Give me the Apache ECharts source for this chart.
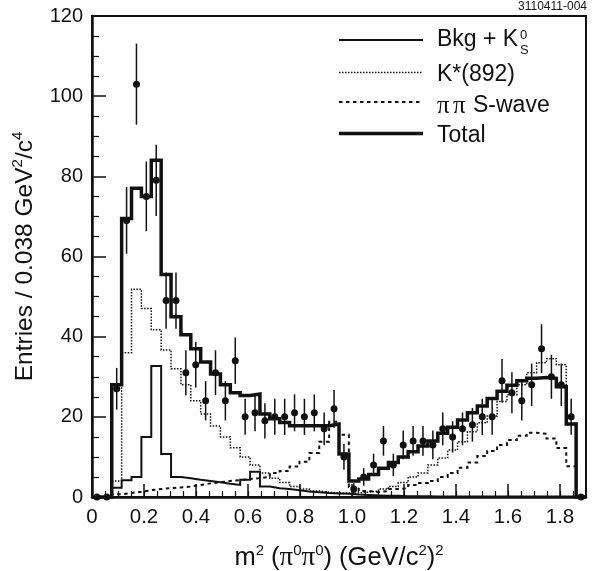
<!DOCTYPE html>
<html>
<head>
<meta charset="utf-8">
<style>
  html, body { margin: 0; padding: 0; background: #fff; }
  #chart-container { width: 593px; height: 571px; }
</style>
<script src="https://cdn.jsdelivr.net/npm/echarts@6/dist/echarts.min.js"></script>
</head>
<body>
<div id="chart-container"></div>
<script>
var BIN_WIDTH = 0.038

/* 50 bins from 0 to 1.9, one value per bin */
var bkgValues = [0, 0, 2.3, 4.2, 5, 15, 32.7, 10.7, 5, 4.7, 4.3, 4, 3.7, 3.3, 3, 4.3, 6.3, 2.6, 2.2, 2, 1.7, 1.4, 1.2, 1, 0.9, 0.8, 0.6, 0.5, 0.4, 0.3, 0.3, 0.2, 0.2, 0.2, 0.1, 0.1, 0.1, 0.1, 0.1, 0.1, 0.1, 0.1, 0.1, 0.1, 0.1, 0.1, 0.1, 0.1, 0.1, 0]
var kstarValues = [0, 0, 4, 36, 51.8, 47, 41.7, 36.7, 32, 28, 24, 20.7, 17.7, 15, 12.3, 10, 8, 6, 4.7, 3.6, 2.6, 2, 1.5, 1.2, 1, 1, 1, 1.2, 1.5, 2, 2.6, 3.6, 5, 6, 8, 9.7, 11.7, 13.8, 16.3, 18.5, 20.2, 23.8, 25.5, 28, 31, 33.5, 34.5, 33, 18, 0]
var swaveValues = [0, 0, 0.7, 1, 1.3, 1.7, 2, 2.2, 2.4, 2.6, 3, 3.4, 3.7, 4, 4.2, 4.5, 4.7, 5, 6, 6.5, 7.6, 8.8, 11, 13.8, 18.8, 15.5, 2.5, 1.5, 1.2, 1.5, 2, 2.2, 3, 3.5, 4, 5, 6, 7.3, 8.6, 10.2, 11.5, 13, 14.2, 15.3, 16, 15.8, 14.6, 12.2, 7.7, 0]
var totalValues = [0, 0, 28, 69.5, 77, 75, 84, 55.5, 45, 40.5, 37, 33.7, 30.7, 28, 26, 25.3, 25.7, 20.7, 19.5, 18.6, 17.8, 17.8, 17.8, 17.8, 18.2, 10.7, 4, 4.5, 5.6, 7.2, 8.6, 10, 11.3, 12.7, 14, 15.9, 17.4, 19.2, 21, 22.7, 24.6, 26.4, 27.9, 29, 29.6, 29.8, 29.6, 27.5, 18.2, 0]
var dataValues = [0, 0, 27, 69, 103, 75, 79, 49, 49, 31, 33, 24, 31, 24, 34, 20, 21, 19, 20, 20, 21, 20, 21, 17, 22, 10, 2, 5, 8, 14, 8, 13, 14, 14, 13, 17, 15, 17, 18, 20, 20, 29, 26, 24, 28, 37, 30, 28, 20, 0]
var dataErrors = [0, 0, 5.2, 8.3, 10.1, 8.7, 8.9, 7, 7, 5.6, 5.7, 4.9, 5.6, 4.9, 5.8, 4.5, 4.6, 4.4, 4.5, 4.5, 4.6, 4.5, 4.6, 4.1, 4.7, 3.2, 1.4, 2.2, 2.8, 3.7, 2.8, 3.6, 3.7, 3.7, 3.6, 4.1, 3.9, 4.1, 4.2, 4.5, 4.5, 5.4, 5.1, 4.9, 5.3, 6.1, 5.5, 5.3, 4.5, 0]

var legendLabels = ['Bkg + K', 'K*(892)', 'S-wave', 'Total']

var FONT = '"Liberation Sans", Arial, sans-serif'
var SERIF = '"Liberation Serif", serif'
var INK = '#111'

/* histogram outline: each value holds from its bin's low edge to the next edge */
function histogram(values) {
  var pts = values.map(function(v, i) { return [i * BIN_WIDTH, v] })
  pts.push([values.length * BIN_WIDTH, 0])
  return pts
}

function stepSeries(name, values, width, type, z) {
  return {
    name: name,
    type: 'line',
    step: 'end',
    data: histogram(values),
    symbol: 'none',
    silent: true,
    animation: false,
    z: z,
    lineStyle: { color: INK, width: width, type: type, join: 'miter', cap: 'butt' }
  }
}

var points = dataValues.map(function(v, i) { return [(i + 0.5) * BIN_WIDTH, v, dataErrors[i]] })

function legendLine(y, width, type) {
  return {
    type: 'line',
    shape: { x1: 339, y1: y, x2: 423, y2: y },
    style: { stroke: INK, lineWidth: width, lineDash: type }
  }
}

function legendText(x, y, text, size, font) {
  return {
    type: 'text',
    x: x,
    y: y,
    style: { text: text, fill: INK, font: (size || 23) + 'px ' + (font || FONT), textVerticalAlign: 'middle' }
  }
}

var supStyle = { fontSize: 15, fontFamily: FONT, color: INK, verticalAlign: 'top', lineHeight: 30 }
var piStyle = { fontSize: 27, fontFamily: SERIF, color: INK }

var myChart = echarts.init(document.getElementById('chart-container'), null, { renderer: 'canvas' })

myChart.setOption({
  backgroundColor: '#fff',
  animation: false,
  grid: {
    show: true, left: 92, right: 7, top: 16, bottom: 74,
    outerBoundsMode: 'none',
    borderColor: INK, borderWidth: 2, backgroundColor: 'transparent'
  },
  xAxis: [
    {
      type: 'value', min: 0, max: 1.9, interval: 0.2,
      name: 'm{sup|2} ({pi|π}{sup|0}{pi|π}{sup|0}) (GeV/c{sup|2}){sup|2}',
      nameLocation: 'middle', nameGap: 46,
      nameTextStyle: { fontSize: 25.5, fontFamily: FONT, color: INK, rich: { sup: supStyle, pi: piStyle } },
      axisLine: { show: true, lineStyle: { color: INK, width: 2.5 } },
      axisTick: { inside: true, length: 13, lineStyle: { color: INK, width: 1.5 } },
      axisLabel: {
        fontSize: 20.5, fontFamily: FONT, color: INK, margin: 10, showMaxLabel: false,
        formatter: function(v) { return v === 1 ? '1.0' : String(v) }
      },
      splitLine: { show: false }
    },
    {
      type: 'value', min: 0, max: 1.9, interval: 0.05, position: 'bottom',
      axisLine: { show: false },
      axisTick: { inside: true, length: 6, lineStyle: { color: INK, width: 1.2 } },
      axisLabel: { show: false },
      splitLine: { show: false }
    }
  ],
  yAxis: {
    type: 'value', min: 0, max: 120, interval: 20,
    name: 'Entries / 0.038 GeV{sup|2}/c{sup|4}',
    nameLocation: 'middle', nameGap: 52, nameRotate: 90,
    nameTextStyle: { fontSize: 24.5, fontFamily: FONT, color: INK, rich: { sup: supStyle } },
    axisLine: { show: true, lineStyle: { color: INK, width: 2.5 } },
    axisTick: { inside: true, length: 14, lineStyle: { color: INK, width: 1.5 } },
    minorTick: { show: true, splitNumber: 4, length: 7, lineStyle: { color: INK, width: 1.2 } },
    axisLabel: { fontSize: 20, fontFamily: FONT, color: INK, margin: 9 },
    splitLine: { show: false }
  },
  series: [
    stepSeries('Bkg + K0S', bkgValues, 2, 'solid', 3),
    stepSeries('K*(892)', kstarValues, 1.5, [1.5, 1.5], 2),
    stepSeries('S-wave', swaveValues, 2, [3.5, 3.5], 2),
    stepSeries('Total', totalValues, 3.5, 'solid', 4),
    {
      name: 'Errors',
      type: 'custom',
      silent: true,
      z: 5,
      data: points,
      encode: { x: 0, y: 1 },
      renderItem: function(params, api) {
        var x = api.value(0), y = api.value(1), e = api.value(2)
        var low = api.coord([x, y - e]), high = api.coord([x, y + e])
        return {
          type: 'line',
          shape: { x1: low[0], y1: low[1], x2: high[0], y2: high[1] },
          style: { stroke: INK, lineWidth: 1.5 }
        }
      }
    },
    {
      name: 'Data',
      type: 'scatter',
      silent: true,
      z: 6,
      data: points,
      symbol: 'circle',
      symbolSize: 7,
      itemStyle: { color: INK, opacity: 1 }
    }
  ],
  graphic: [
    legendLine(40, 2, null),
    legendLine(72.5, 1.5, [1.5, 1.5]),
    legendLine(102, 2, [3.5, 3.5]),
    legendLine(133.5, 3.5, null),
    legendText(437, 40, legendLabels[0]),
    legendText(520, 35, '0', 13),
    legendText(520, 50, 'S', 13),
    legendText(437, 75, legendLabels[1]),
    legendText(437, 106, 'π', 25, SERIF),
    legendText(453, 106, 'π', 25, SERIF),
    legendText(473, 106, legendLabels[2]),
    legendText(437, 136, legendLabels[3]),
    {
      type: 'text', x: 587, y: 7,
      style: { text: '3110411-004', fill: INK, font: '12px ' + FONT, textAlign: 'right', textVerticalAlign: 'middle' }
    }
  ]
})

window.addEventListener('resize', function() { myChart.resize() })
</script>
</body>
</html>
